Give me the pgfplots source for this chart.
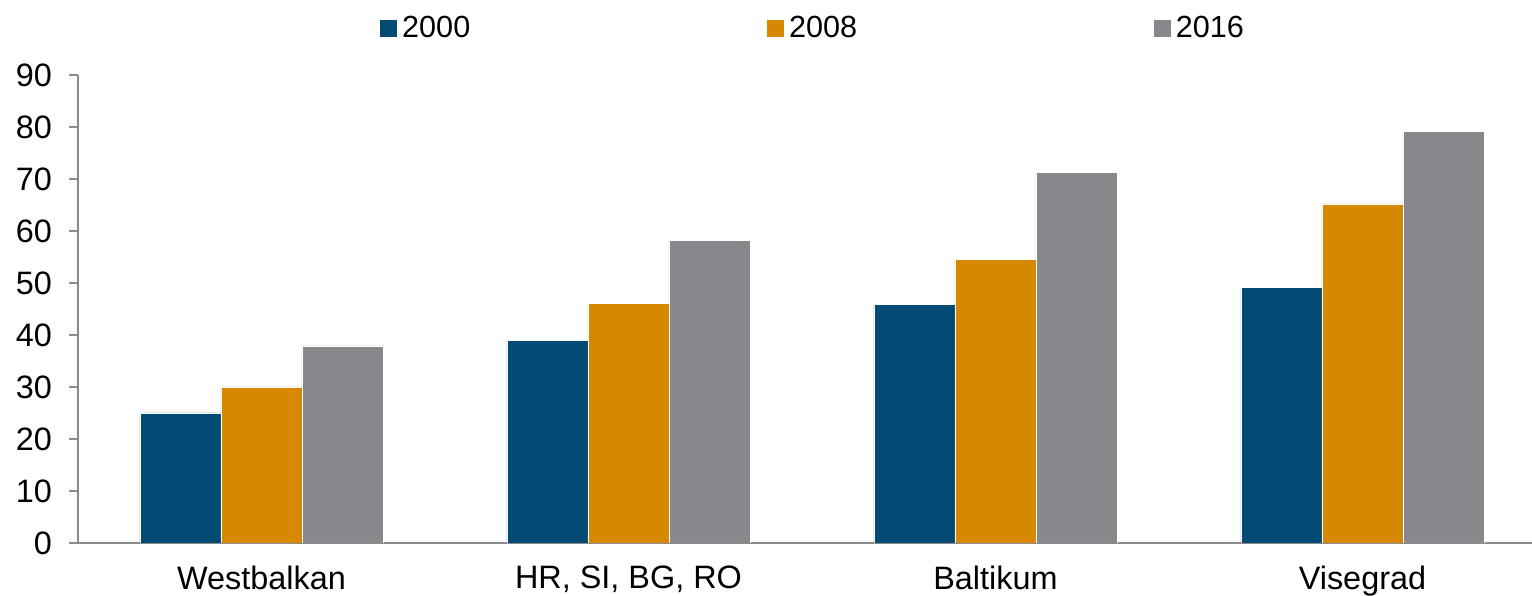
\documentclass[border=0pt]{standalone}
\usepackage{pgfplots}
\pgfplotsset{compat=1.18}
\usepackage{fontspec}
\setmainfont{Liberation Sans}
\definecolor{c2000}{HTML}{004A73}
\definecolor{c2008}{HTML}{D58800}
\definecolor{c2016}{HTML}{88878C}
\definecolor{axgray}{HTML}{8C8C8C}
\begin{document}
\begin{tikzpicture}
\begin{axis}[
  scale only axis,
  width=727pt, height=234pt,
  ybar=0pt, bar width=40.5pt,
  xmin=-0.5, xmax=3.462,
  ymin=0, ymax=90,
  ytick={0,10,...,90},
  xtick=data,
  xticklabels={Westbalkan, {HR, SI, BG, RO}, Baltikum, Visegrad},
  axis x line=bottom, axis y line=left,
  axis line style={draw=axgray, line width=0.6pt, -},
  x axis line style={-}, y axis line style={-},
  ytick style={draw=axgray, line width=0.6pt},
  xtick style={draw=none},
  tick align=outside, major tick length=4.5pt,
  ticklabel style={font=\fontsize{16.2}{18}\selectfont},
  /pgf/number format/assume math mode=true,
  yticklabel style={xshift=-5pt},
  xticklabel style={yshift=-3.5pt},
  legend columns=3,
  legend style={draw=none, at={(0.506,1)}, anchor=south, yshift=13pt,
    font=\fontsize{15.3}{17}\selectfont,
    /tikz/every even column/.append style={column sep=146pt}},
  legend image code/.code={\fill[#1] (-1pt,-4.5pt) rectangle (8pt,4.5pt);},
  every axis plot/.append style={draw=white, line width=0.4pt},
]
\addplot[fill=c2000] coordinates {(0,25) (1,38.9) (2,45.8) (3,49.1)};
\addplot[fill=c2008] coordinates {(1,46) (0,30) (2,54.6) (3,65.2)};
\addplot[fill=c2016] coordinates {(0,37.9) (1,58.1) (2,71.3) (3,79.2)};
\legend{2000,2008,2016}
\coordinate (bl) at (rel axis cs:0,0);
\coordinate (tr) at (rel axis cs:1,1);
\end{axis}
\pgfresetboundingbox
\path ([xshift=-39pt,yshift=-26.5pt]bl) rectangle ([yshift=37.5pt]tr);
\end{tikzpicture}
\end{document}
